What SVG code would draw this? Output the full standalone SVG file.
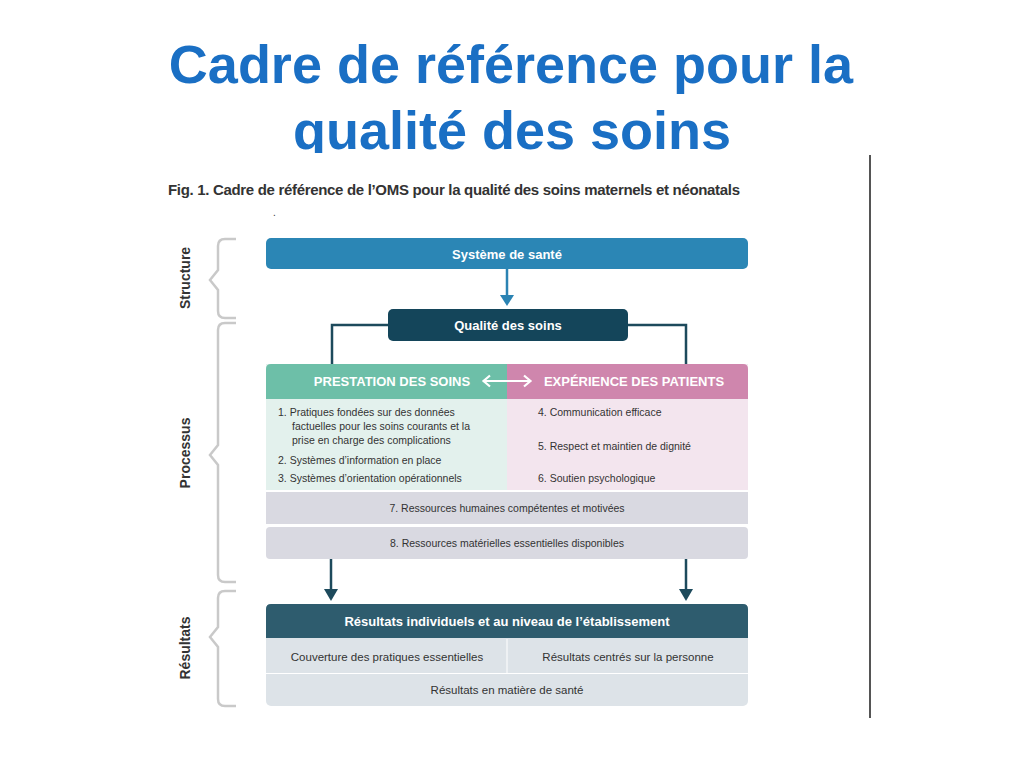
<svg xmlns="http://www.w3.org/2000/svg" width="1024" height="768" viewBox="0 0 1024 768">
<style>
.t{font-family:"Liberation Sans",Arial,sans-serif}
.c{font-family:"Liberation Sans Narrow","Liberation Sans",Arial,sans-serif}
.hd{fill:#fff;font-weight:bold;font-size:13px;text-anchor:middle}
.bd{fill:#333;font-size:10.5px}
.lab{fill:#333;font-weight:bold;font-size:14px;text-anchor:middle}
.br{fill:none;stroke:#c9c9c9;stroke-width:2.5}
</style>
<defs>
<clipPath id="cl"><rect x="0" y="0" width="1024" height="153"/></clipPath>
</defs>
<rect width="1024" height="768" fill="#fff"/>
<g class="t" fill="#1a6fc4" font-weight="bold" font-size="54" text-anchor="middle" clip-path="url(#cl)">
<text x="511" y="83">Cadre de référence pour la</text>
<text x="512" y="149">qualité des soins</text>
</g>
<line x1="870" y1="155" x2="870" y2="718" stroke="#555" stroke-width="2"/>
<text class="c" x="168" y="195" fill="#333" font-weight="bold" font-size="15" textLength="572">Fig. 1. Cadre de référence de l’OMS pour la qualité des soins maternels et néonatals</text>
<text x="273" y="216" fill="#333" font-size="10" class="t">.</text>
<g id="brackets">
<path class="br" d="M236,239 H225 Q218,239 218,246 V270 L210,280 L218,290 V311 Q218,318 225,318 H236"/>
<path class="br" d="M236,323 H225 Q218,323 218,330 V445 L210,455 L218,465 V575 Q218,582 225,582 H236"/>
<path class="br" d="M236,591 H225 Q218,591 218,598 V627 L210,637 L218,647 V699 Q218,706 225,706 H236"/>
<text class="t lab" transform="translate(190,278) rotate(-90)">Structure</text>
<text class="t lab" transform="translate(190,453) rotate(-90)">Processus</text>
<text class="t lab" transform="translate(190,648) rotate(-90)">Résultats</text>
</g>
<g id="connectors" stroke="#1d4a5c" fill="none" stroke-width="2.5">
<line x1="507" y1="269" x2="507" y2="296" stroke="#2b83b3"/>
<polygon points="500,295 514,295 507,306" fill="#2b83b3" stroke="none"/>
<path d="M388,325 H332 V364"/>
<path d="M628,325 H686 V364"/>
<line x1="331" y1="559" x2="331" y2="590"/>
<polygon points="324,589 338,589 331,601" fill="#1d4a5c" stroke="none"/>
<line x1="686" y1="559" x2="686" y2="590"/>
<polygon points="679,589 693,589 686,601" fill="#1d4a5c" stroke="none"/>
</g>
<g id="systeme"><rect x="266" y="238" width="482" height="31" rx="5" fill="#2b86b5"/><text class="c hd" x="507" y="259">Système de santé</text></g>
<g id="qualite"><rect x="388" y="309" width="240" height="32" rx="5" fill="#14455a"/><text class="c hd" x="508" y="330">Qualité des soins</text></g>
<g id="prestation">
<rect x="266" y="364" width="241" height="126" fill="#e3f1ed"/>
<path d="M266,399 V369 Q266,364 271,364 H507 V399 Z" fill="#6dbfa8"/>
<text class="c hd" x="392" y="386" font-size="13.5">PRESTATION DES SOINS</text>
<g class="c bd"><text x="278" y="416">1. Pratiques fondées sur des données</text><text x="292" y="430">factuelles pour les soins courants et la</text><text x="292" y="444">prise en charge des complications</text><text x="278" y="464">2. Systèmes d’information en place</text><text x="278" y="482">3. Systèmes d’orientation opérationnels</text></g>
</g>
<g id="experience">
<rect x="507" y="364" width="241" height="126" fill="#f3e5ee"/>
<path d="M507,399 V364 H743 Q748,364 748,369 V399 Z" fill="#cf86ad"/>
<text class="c hd" x="634" y="386" font-size="13.5">EXPÉRIENCE DES PATIENTS</text>
<g class="c bd"><text x="538" y="416">4. Communication efficace</text><text x="538" y="450">5. Respect et maintien de dignité</text><text x="538" y="482">6. Soutien psychologique</text></g>
</g>
<g id="double-arrow" stroke="#fff" stroke-width="2.2" fill="none">
<path d="M484,381 H530 M490,375.5 L483.5,381 L490,386.5 M524,375.5 L530.5,381 L524,386.5"/>
</g>
<g id="ressources">
<rect x="266" y="492" width="482" height="32" fill="#d9d9e1"/>
<rect x="266" y="527" width="482" height="32" rx="4" fill="#d9d9e1"/>
<g class="c bd" text-anchor="middle"><text x="507" y="512">7. Ressources humaines compétentes et motivées</text><text x="507" y="547">8. Ressources matérielles essentielles disponibles</text></g>
</g>
<g id="resultats">
<rect x="266" y="604" width="482" height="102" rx="5" fill="#dde3e8"/>
<path d="M266,638 V609 Q266,604 271,604 H743 Q748,604 748,609 V638 Z" fill="#2e5c6e"/>
<text class="c hd" x="507" y="626" font-size="14">Résultats individuels et au niveau de l’établissement</text>
<line x1="266" y1="673.5" x2="748" y2="673.5" stroke="#fff"/>
<line x1="507" y1="639" x2="507" y2="673" stroke="#fff"/>
<g class="c" fill="#333" font-size="11.5" text-anchor="middle"><text x="387" y="661">Couverture des pratiques essentielles</text><text x="628" y="661">Résultats centrés sur la personne</text><text x="507" y="694">Résultats en matière de santé</text></g>
</g>
</svg>
